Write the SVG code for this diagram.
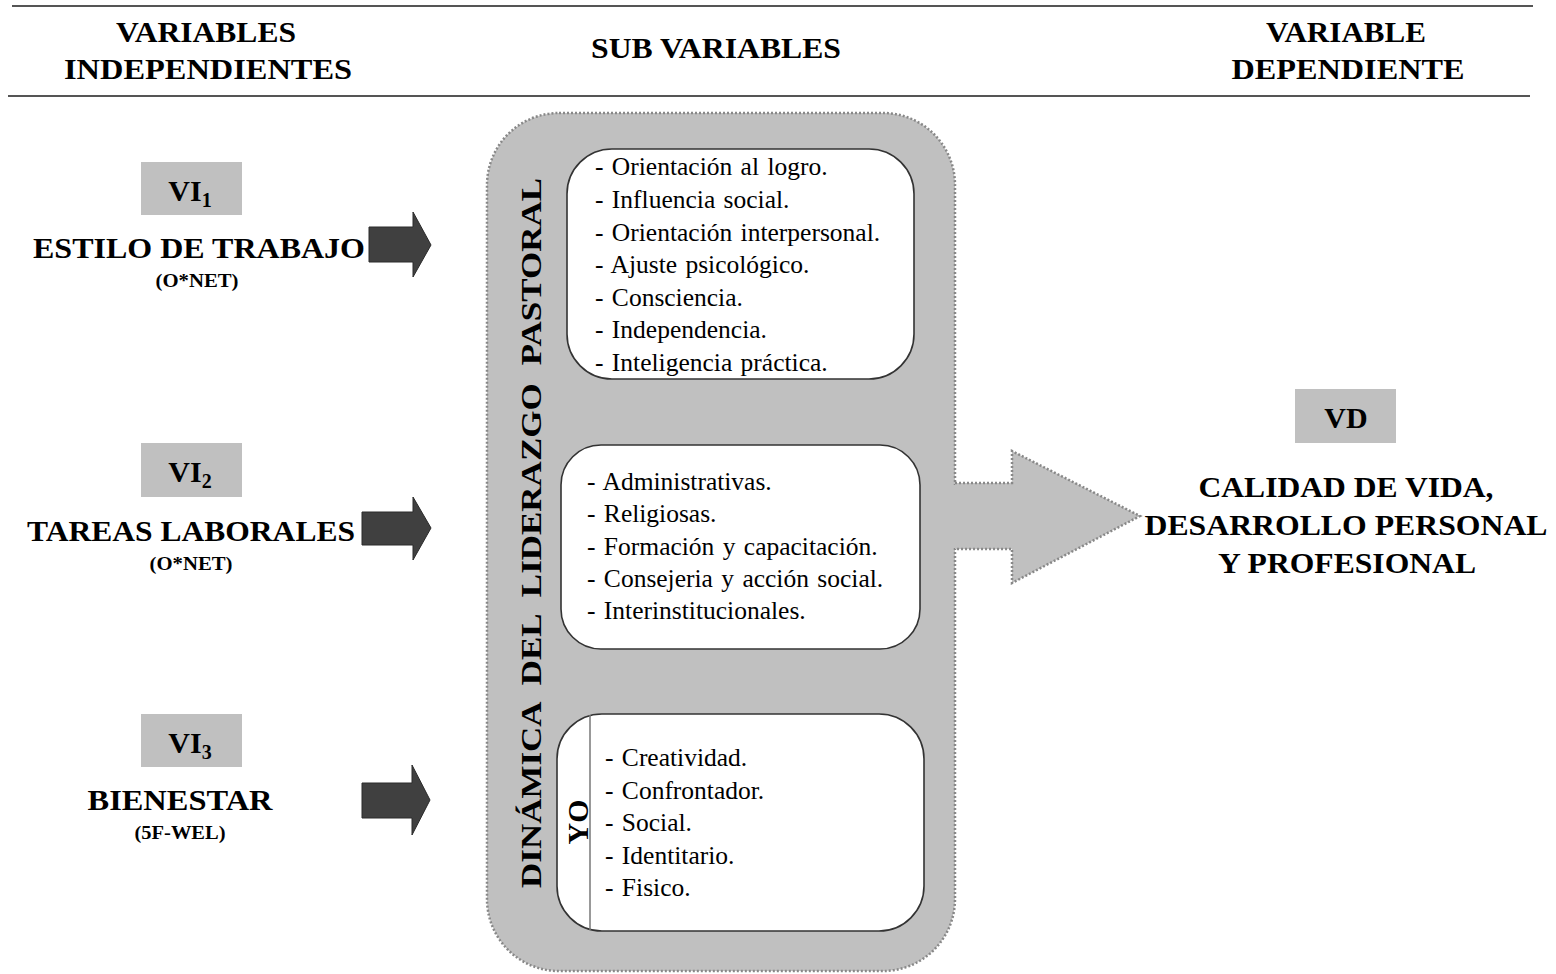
<svg xmlns="http://www.w3.org/2000/svg" width="1556" height="974" viewBox="0 0 1556 974" xml:space="preserve">
<style>
text{font-family:'Liberation Serif','DejaVu Serif',serif}
.h{font-weight:bold;font-size:30px;fill:#000;text-anchor:middle}
.s{font-weight:bold;font-size:19px;fill:#000;text-anchor:middle}
.t{font-size:25.5px;fill:#000;word-spacing:2px}
.lab{fill:#c0c0c0}
.dark{fill:#404040;stroke:#2a2a2a;stroke-width:1}
.inner{fill:#fff;stroke:#333;stroke-width:1.6}
.dot{stroke:#888;stroke-width:2.5;stroke-dasharray:2 2}
</style>
<rect width="1556" height="974" fill="#fff"/>
<g id="header">
<line x1="12" y1="6" x2="1533" y2="6" stroke="#555" stroke-width="2"/>
<line x1="8" y1="96" x2="1530" y2="96" stroke="#555" stroke-width="2"/>
<text class="h" x="206" y="42" textLength="180" lengthAdjust="spacingAndGlyphs">VARIABLES</text>
<text class="h" x="208" y="79" textLength="288" lengthAdjust="spacingAndGlyphs">INDEPENDIENTES</text>
<text class="h" x="716" y="58" textLength="250" lengthAdjust="spacingAndGlyphs">SUB VARIABLES</text>
<text class="h" x="1346" y="42" textLength="160" lengthAdjust="spacingAndGlyphs">VARIABLE</text>
<text class="h" x="1348" y="79" textLength="233" lengthAdjust="spacingAndGlyphs">DEPENDIENTE</text>
</g>
<g id="vi1">
<rect class="lab" x="141" y="162" width="101" height="53"/>
<text class="h" x="190" y="201">VI<tspan font-size="20" dy="6">1</tspan></text>
<text class="h" x="199" y="258" textLength="332" lengthAdjust="spacingAndGlyphs">ESTILO DE TRABAJO</text>
<text class="s" x="197" y="287" textLength="83" lengthAdjust="spacingAndGlyphs">(O*NET)</text>
</g>
<g id="vi2">
<rect class="lab" x="141" y="443" width="101" height="54"/>
<text class="h" x="190" y="482">VI<tspan font-size="20" dy="6">2</tspan></text>
<text class="h" x="191" y="541" textLength="328" lengthAdjust="spacingAndGlyphs">TAREAS LABORALES</text>
<text class="s" x="191" y="570" textLength="83" lengthAdjust="spacingAndGlyphs">(O*NET)</text>
</g>
<g id="vi3">
<rect class="lab" x="141" y="714" width="101" height="53"/>
<text class="h" x="190" y="753">VI<tspan font-size="20" dy="6">3</tspan></text>
<text class="h" x="180" y="810" textLength="185" lengthAdjust="spacingAndGlyphs">BIENESTAR</text>
<text class="s" x="180" y="839" textLength="91" lengthAdjust="spacingAndGlyphs">(5F-WEL)</text>
</g>
<g id="connectors">
<polygon class="dark" points="369,227 413,227 413,212 431,245 413,277 413,262 369,262"/>
<polygon class="dark" points="362,512 413,512 413,497 431,528 413,560 413,545 362,545"/>
<polygon class="dark" points="362,783 412,783 412,765 430,800 412,835 412,818 362,818"/>
</g>
<g id="subvariables">
<rect x="487" y="113" width="468" height="858" rx="72" ry="72" fill="#c0c0c0" class="dot"/>
<rect x="950" y="485" width="10" height="63" fill="#c0c0c0"/>
<path d="M955,483 L1012,483 L1012,451 L1140,516 L1012,583 L1012,549 L955,549" fill="#c0c0c0" class="dot"/>
<text class="h" font-size="37" word-spacing="8" transform="translate(541,533) rotate(-90)" textLength="710" lengthAdjust="spacingAndGlyphs">DINÁMICA DEL LIDERAZGO PASTORAL</text>
</g>
<g id="box1">
<rect class="inner" x="567" y="149" width="347" height="230" rx="45" ry="45"/>
<text class="t" x="595" y="175">- Orientación  al logro.</text>
<text class="t" x="595" y="208">- Influencia  social.</text>
<text class="t" x="595" y="241">- Orientación  interpersonal.</text>
<text class="t" x="595" y="273">- Ajuste  psicológico.</text>
<text class="t" x="595" y="306">- Consciencia.</text>
<text class="t" x="595" y="338">- Independencia.</text>
<text class="t" x="595" y="371">- Inteligencia  práctica.</text>
</g>
<g id="box2">
<rect class="inner" x="561" y="445" width="359" height="204" rx="40" ry="40"/>
<text class="t" x="587" y="490">- Administrativas.</text>
<text class="t" x="587" y="522">- Religiosas.</text>
<text class="t" x="587" y="555">- Formación  y capacitación.</text>
<text class="t" x="587" y="587">- Consejeria  y acción  social.</text>
<text class="t" x="587" y="619">- Interinstitucionales.</text>
</g>
<g id="box3">
<rect class="inner" x="557" y="714" width="367" height="217" rx="45" ry="45"/>
<line x1="590" y1="715" x2="590" y2="930" stroke="#777" stroke-width="1.5"/>
<text class="h" font-size="30" transform="translate(588,822) rotate(-90)">YO</text>
<text class="t" x="605" y="766">- Creatividad.</text>
<text class="t" x="605" y="799">- Confrontador.</text>
<text class="t" x="605" y="831">- Social.</text>
<text class="t" x="605" y="864">- Identitario.</text>
<text class="t" x="605" y="896">- Fisico.</text>
</g>
<g id="vd">
<rect class="lab" x="1295" y="389" width="101" height="54"/>
<text class="h" x="1346" y="428">VD</text>
<text class="h" x="1346" y="497" textLength="295" lengthAdjust="spacingAndGlyphs">CALIDAD DE VIDA,</text>
<text class="h" x="1346" y="535" textLength="403" lengthAdjust="spacingAndGlyphs">DESARROLLO PERSONAL</text>
<text class="h" x="1347" y="573" textLength="258" lengthAdjust="spacingAndGlyphs">Y PROFESIONAL</text>
</g>
</svg>
